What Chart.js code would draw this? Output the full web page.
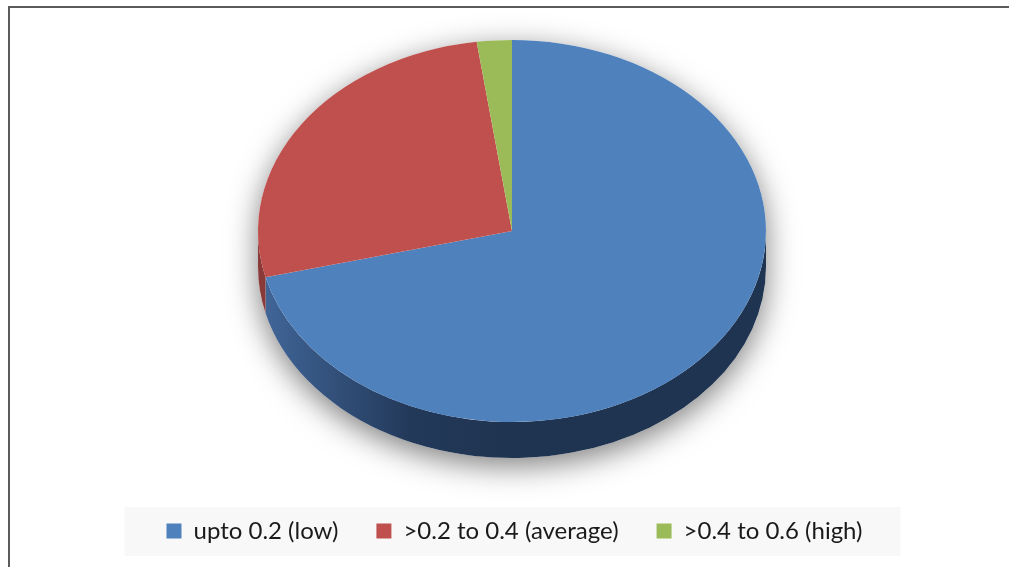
<!DOCTYPE html>
<html>
<head>
<meta charset="utf-8">
<script src="https://cdn.jsdelivr.net/npm/chart.js@4.4.0/dist/chart.umd.min.js"></script>
<style>
html, body { margin: 0; padding: 0; background: #fff; overflow: hidden; }
#frame { position: absolute; left: 8px; top: 6px; width: 1100px; height: 700px; border: 2px solid #5b5b5b; }
#wrap { position: absolute; left: 0; top: 0; width: 1009px; height: 567px; }
</style>
</head>
<body>
<div id="frame"></div>
<div id="wrap"><canvas id="myChart"></canvas></div>
<script>
var labels = ["upto 0.2 (low)", ">0.2 to 0.4 (average)", ">0.4 to 0.6 (high)"];
var values = [32, 12, 1];
var topColors = ["#4f81bd", "#c0504d", "#9bbb59"];
var sideColors = [
    ["#41679a", "#23395a", "#1f3450"],
    ["#8a3b39", "#6e2b29", "#5e2422"],
    ["#6f8a3f", "#56702f", "#4a6128"]
];

// squash the pie into an ellipse and give it a front edge, like Excel's 3-D pie
var pie3d = {
    id: "pie3d",
    beforeDraw: function (chart) {
        var ctx = chart.ctx;
        var boxes = chart.legend && chart.legend.legendHitBoxes;
        if (!boxes || !boxes.length) return;
        var last = boxes[boxes.length - 1];
        var l = boxes[0].left, r = last.left + last.width;
        var t = boxes[0].top, b = t + boxes[0].height;
        ctx.save();
        ctx.fillStyle = "#f8f8f8";
        ctx.fillRect(l - 42, t - 12, r - l + 80, b - t + 25);
        ctx.restore();
    },
    beforeDatasetsDraw: function (chart) {
        var ctx = chart.ctx;
        var arcs = chart.getDatasetMeta(0).data;
        var a = arcs[0];
        var R = a.outerRadius;
        var sx = 254 / R, sy = 191 / R;
        var depth = 36 / sy;
        ctx.save();
        ctx.translate(512, 231);
        ctx.scale(sx, sy);
        ctx.translate(-a.x, -a.y);

        // soft shadow behind the whole disc
        ctx.save();
        ctx.shadowColor = "rgba(0,0,0,0.5)";
        ctx.shadowBlur = 30;
        ctx.shadowOffsetY = 8;
        ctx.fillStyle = "#fff";
        ctx.beginPath();
        ctx.arc(a.x, a.y, R, Math.PI, 0);
        ctx.arc(a.x, a.y + depth, R, 0, Math.PI);
        ctx.closePath();
        ctx.fill();
        ctx.restore();

        // front edge of each slice
        arcs.forEach(function (arc, i) {
            [0, 2 * Math.PI].forEach(function (base) {
                var s = Math.max(arc.startAngle, base);
                var e = Math.min(arc.endAngle, base + Math.PI);
                if (e <= s) return;
                var g = ctx.createLinearGradient(a.x - R, 0, a.x + R, 0);
                g.addColorStop(0, sideColors[i][0]);
                g.addColorStop(0.3, sideColors[i][1]);
                g.addColorStop(0.5, sideColors[i][2]);
                g.addColorStop(1, sideColors[i][2]);
                ctx.fillStyle = g;
                ctx.beginPath();
                ctx.arc(a.x, a.y, R, s, e);
                ctx.arc(a.x, a.y + depth, R, e, s, true);
                ctx.closePath();
                ctx.fill();
            });
        });
    },
    afterDatasetsDraw: function (chart) {
        chart.ctx.restore();
    }
};

new Chart("myChart", {
    type: "pie",
    data: {
        labels: labels,
        datasets: [{
            data: values,
            backgroundColor: topColors,
            borderWidth: 0,
            clip: false
        }]
    },
    options: {
        responsive: true,
        maintainAspectRatio: false,
        animation: false,
        events: [],
        layout: { padding: { top: 40, bottom: 14, left: 20, right: 0 } },
        plugins: {
            legend: {
                position: "bottom",
                labels: {
                    boxWidth: 15,
                    boxHeight: 15,
                    padding: 38,
                    color: "#1a1a1a",
                    font: { family: "Lato", size: 24 }
                }
            },
            tooltip: { enabled: false }
        }
    },
    plugins: [pie3d]
});
</script>
</body>
</html>
